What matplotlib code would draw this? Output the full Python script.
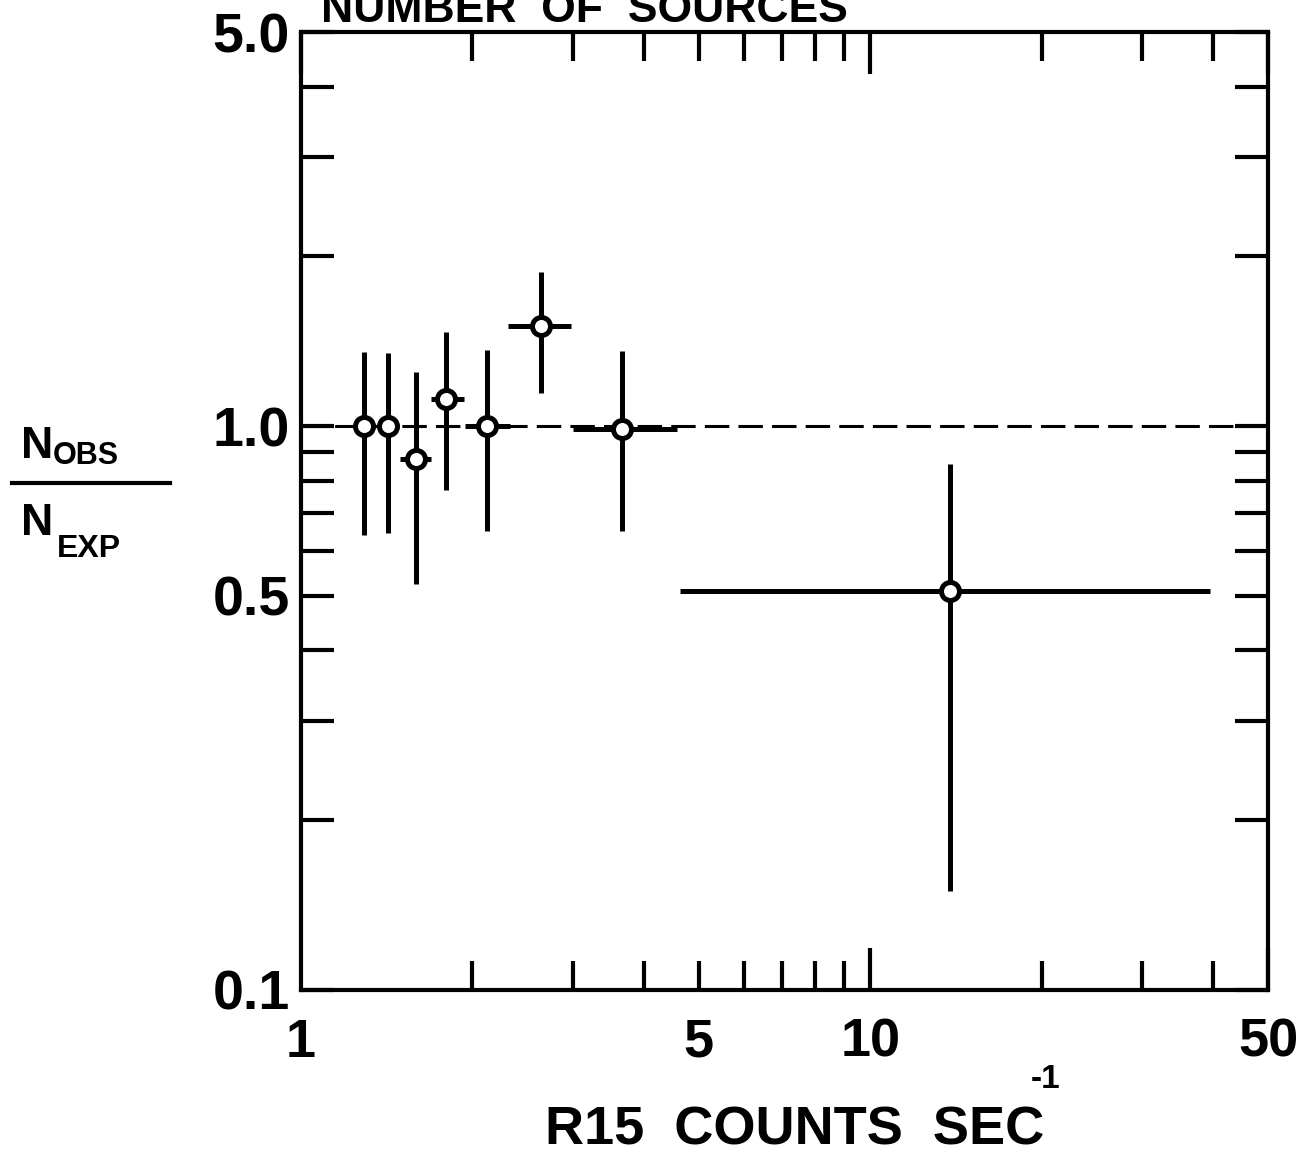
import numpy as np
import matplotlib
matplotlib.use('Agg')
import matplotlib.pyplot as plt
from matplotlib.ticker import FixedLocator, FixedFormatter, NullFormatter
from matplotlib.lines import Line2D

plt.rcParams['font.family'] = ['Liberation Sans', 'DejaVu Sans']

# R15 counting rate bins and observed/expected ratio
rate = [1.29, 1.42, 1.59, 1.80, 2.12, 2.64, 3.66, 13.8]
rate_lo = [1.29, 1.42, 1.49, 1.69, 1.94, 2.31, 3.00, 4.63]
rate_hi = [1.29, 1.42, 1.69, 1.93, 2.33, 2.98, 4.58, 39.5]
ratio = [1.0, 1.0, 0.874, 1.117, 1.0, 1.505, 0.99, 0.51]
ratio_lo = [0.641, 0.645, 0.525, 0.770, 0.652, 1.145, 0.652, 0.150]
ratio_hi = [1.354, 1.350, 1.247, 1.469, 1.365, 1.877, 1.360, 0.857]

xticks_major = [1, 10, 50]
xticks_minor = [2, 3, 4, 5, 6, 7, 8, 9, 20, 30, 40]
yticks_major = [0.1, 0.5, 1.0, 5.0]
yticks_minor = [0.2, 0.3, 0.4, 0.6, 0.7, 0.8, 0.9, 2, 3, 4]

fig = plt.figure(figsize=(12.96, 11.6), dpi=100)
ax = fig.add_axes([0.2323, 0.1466, 0.9784 - 0.2323, 0.9724 - 0.1466])
ax.set_xscale('log')
ax.set_yscale('log')
ax.set_xlim(1, 50)
ax.set_ylim(0.1, 5.0)

ax.axhline(1.0, xmin=0, xmax=0.97, color='black', lw=2.2, dashes=(8, 3), zorder=1)

x = np.array(rate)
y = np.array(ratio)
xerr = [x - np.array(rate_lo), np.array(rate_hi) - x]
yerr = [y - np.array(ratio_lo), np.array(ratio_hi) - y]
ax.errorbar(x, y, xerr=xerr, yerr=yerr, fmt='o', color='black', ecolor='black',
            elinewidth=3.6, capsize=0, ms=13, mfc='white', mec='black', mew=3.6, zorder=3)

for s in ax.spines.values():
    s.set_linewidth(3)

ax.xaxis.set_major_locator(FixedLocator(xticks_major))
ax.xaxis.set_major_formatter(FixedFormatter(['1', '10', '50']))
ax.xaxis.set_minor_locator(FixedLocator(xticks_minor))
ax.xaxis.set_minor_formatter(FixedFormatter(['', '', '', '5', '', '', '', '', '', '', '']))
ax.yaxis.set_major_locator(FixedLocator(yticks_major))
ax.yaxis.set_major_formatter(FixedFormatter(['0.1', '0.5', '1.0', '5.0']))
ax.yaxis.set_minor_locator(FixedLocator(yticks_minor))
ax.yaxis.set_minor_formatter(NullFormatter())

ax.tick_params(axis='x', which='major', direction='in', top=True, length=30, width=3,
               labelsize=39, pad=20)
ax.tick_params(axis='x', which='minor', direction='in', top=True, length=21, width=3,
               labelsize=39, pad=20)
ax.tick_params(axis='y', which='both', direction='in', right=True, length=24, width=3,
               labelsize=40, pad=8)
for lab in ax.get_xticklabels(which='both') + ax.get_yticklabels():
    lab.set_fontweight('bold')
ax.xaxis.get_major_ticks()[0].tick1line.set_visible(False)

# title, clipped by the top edge
fig.text(0.451, 0.981, 'NUMBER  OF  SOURCES', fontsize=32, fontweight='bold',
         ha='center', va='baseline')

# x label with superscript
fig.text(0.613, 0.013, 'R15  COUNTS  SEC', fontsize=39, fontweight='bold',
         ha='center', va='baseline')
fig.text(0.795, 0.062, '-1', fontsize=24, fontweight='bold', ha='left', va='baseline')

# y label as a fraction N_obs / N_exp
fig.text(0.016, 0.605, 'N', fontsize=32, fontweight='bold', ha='left', va='baseline')
fig.text(0.041, 0.600, 'OBS', fontsize=22, fontweight='bold', ha='left', va='baseline')
fig.add_artist(Line2D([0.009, 0.131], [0.584, 0.584], color='black', lw=3,
                      transform=fig.transFigure))
fig.text(0.016, 0.539, 'N', fontsize=32, fontweight='bold', ha='left', va='baseline')
fig.text(0.044, 0.520, 'EXP', fontsize=23, fontweight='bold', ha='left', va='baseline')

fig.savefig('out.png', dpi=100)
